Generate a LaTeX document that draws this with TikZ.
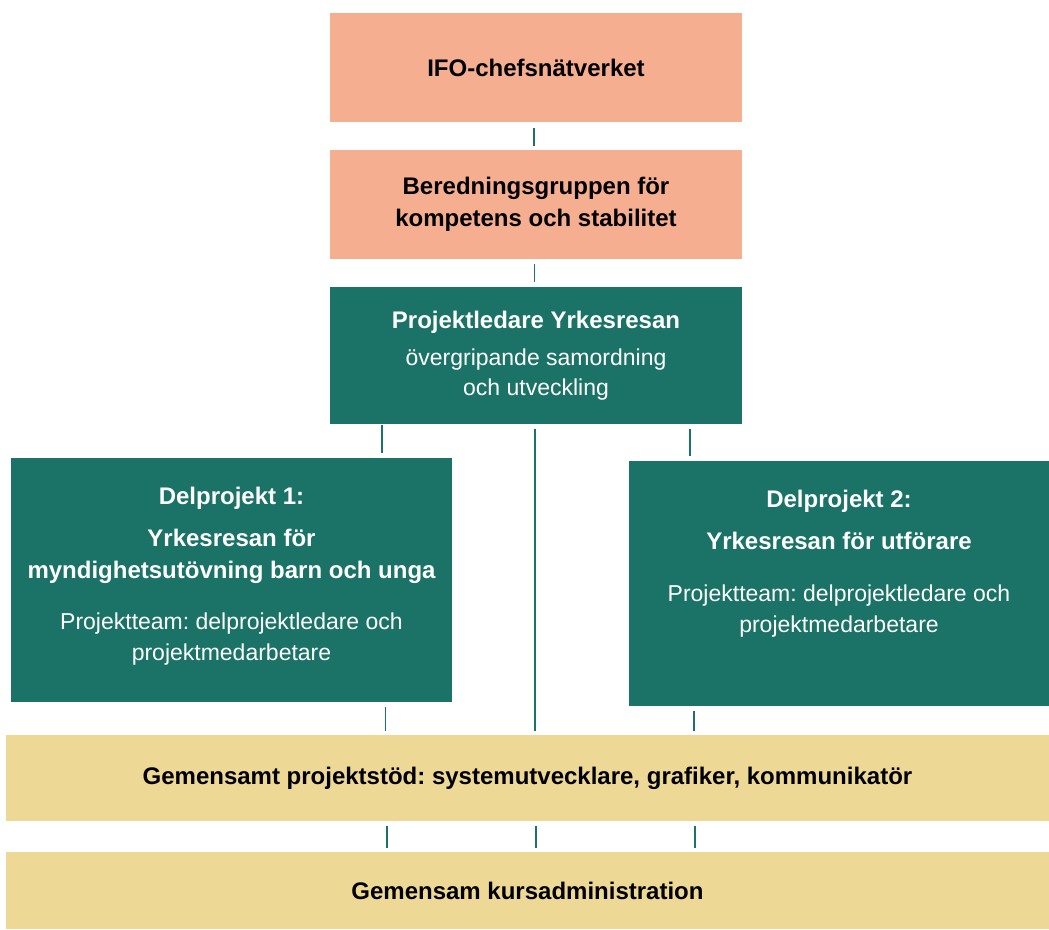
\documentclass[tikz,border=0pt]{standalone}
\usepackage{fontspec}
\setmainfont{Liberation Sans}
\usetikzlibrary{positioning}
\definecolor{salmon}{HTML}{F6AE91}
\definecolor{petrol}{HTML}{1B7266}
\definecolor{sand}{HTML}{EDD896}
\frenchspacing
\begin{document}
\begin{tikzpicture}[
        x=1pt, y=-1pt,
        link/.style={draw=petrol, line width=1.3pt, shorten <=5pt, shorten >=4pt}
    ]
    %\usetikzlibrary{positioning}

    \tikzstyle{box} = [
        inner sep = 0pt,
        align = center,
        font = \bfseries\fontsize{24}{32}\selectfont
    ]
    \tikzstyle{rosebox} = [box, fill=salmon, minimum width=412pt, minimum height=109pt]
    \tikzstyle{tealbox} = [box, fill=petrol, text=white]
    \tikzstyle{sandbox} = [box, fill=sand, minimum width=1043pt]
    \newcommand{\thin}[1]{{\mdseries\fontsize{23}{31}\selectfont #1}}

    \useasboundingbox (0,0) rectangle (1049,929);

    \node [rosebox] (ifo) at (536,67.5) {IFO-chefsnätverket};
    \node [rosebox] (bered) at (536,204.5) {Beredningsgruppen för\\kompetens och stabilitet};
    \node [tealbox, minimum width=412pt, minimum height=137pt] (pl) at (536,355.5)
        {Projektledare Yrkesresan\\[5pt]\thin{övergripande samordning}\\[-2pt]\thin{och utveckling}};

    \node [tealbox, minimum width=441pt, minimum height=244pt] (dp1) at (231.5,580) {};
    \node [box, text=white, anchor=north] (dp1text) at ([yshift=-29pt]dp1.north)
        {Delprojekt 1:\\[10pt]Yrkesresan för\\myndighetsutövning barn och unga\\[19pt]\thin{Projektteam: delprojektledare och}\\[-1pt]\thin{projektmedarbetare}};
    \node [tealbox, minimum width=420pt, minimum height=245pt] (dp2) at (839,583.5) {};
    \node [box, text=white, anchor=north] (dp2text) at ([yshift=-29pt]dp2.north)
        {Delprojekt 2:\\[10pt]Yrkesresan för utförare\\[20pt]\thin{Projektteam: delprojektledare och}\\[-1pt]\thin{projektmedarbetare}};

    \node [sandbox, minimum height=86pt] (proj) at (527.5,778) {Gemensamt projektstöd: systemutvecklare, grafiker, kommunikatör};
    \node [sandbox, minimum height=77pt] (kurs) at (527.5,890.5) {Gemensam kursadministration};

    \draw [link, shorten <=6pt] ([xshift=-2pt]ifo.south) -- ([xshift=-2pt]bered.north);
    \draw [link, shorten >=5pt] ([xshift=-1.5pt]bered.south) -- ([xshift=-1.5pt]pl.north);
    \draw [link, shorten <=1pt, shorten >=5pt] ([xshift=-154pt]pl.south) -- ([xshift=-154pt]pl.south |- dp1.north);
    \draw [link] ([xshift=-1pt]pl.south) -- ([xshift=-1pt]pl.south |- proj.north);
    \draw [link, shorten >=5pt] ([xshift=154pt]pl.south) -- ([xshift=154pt]pl.south |- dp2.north);
    \draw [link] ([xshift=154pt]dp1.south) -- ([xshift=154pt]dp1.south |- proj.north);
    \draw [link] ([xshift=-145pt]dp2.south) -- ([xshift=-145pt]dp2.south |- proj.north);
    \foreach \dx in {-140.5,8.5,167.5}
        \draw [link] ([xshift=\dx pt]proj.south) -- ([xshift=\dx pt]proj.south |- kurs.north);
\end{tikzpicture}
\end{document}
